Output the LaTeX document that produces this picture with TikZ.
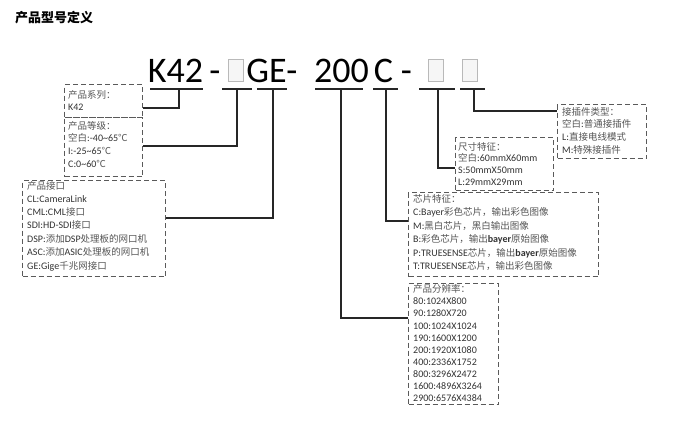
\documentclass[tikz,border=0pt]{standalone}
\usepackage{fontspec}
\setmainfont{Carlito}
\newfontfamily\cjk{Noto Sans CJK SC}
\definecolor{txtgray}{HTML}{333333}
\definecolor{zhgray}{HTML}{555555}
\definecolor{boxgray}{HTML}{5A5A5A}
\definecolor{linecol}{HTML}{262626}
\newcommand\zhtxt[1]{{\cjk\fontsize{9.5}{12}\selectfont\color{zhgray}#1}}
\tikzset{
  dbox/.style={draw=boxgray, dash pattern=on 5pt off 3pt, line width=1pt, inner sep=0pt},
  conn/.style={draw=linecol, line width=2pt},
  uline/.style={draw=linecol, line width=2.4pt},
  lbl/.style={anchor=west, inner sep=0pt, text height=7pt, text depth=2pt,
              font=\fontsize{10}{12}\selectfont, text=txtgray},
  hdr/.style={anchor=base, inner sep=0pt, font=\fontsize{36}{40}\selectfont, text=black},
  blank/.style={draw=gray!55, fill=gray!7, line width=0.8pt, inner sep=0pt,
                minimum width=15pt, minimum height=22pt, anchor=north west},
}
\begin{document}
\begin{tikzpicture}[x=1pt,y=-1pt]
\useasboundingbox[fill=white] (0,0) rectangle (680,421);

% title
\node[anchor=west, inner sep=0pt, font=\fontsize{13}{15}\selectfont\cjk\bfseries] (title) at (15,18) {产品型号定义};

% header
\node[hdr] (hK) at (175.5,82) {K42};
\node[hdr] (hd1) at (215,82) {-};
\node[blank] (hb0) at (228,59) {};
\node[hdr] (hGE) at (266.5,82) {GE};
\node[hdr] (hd2) at (292,82) {-};
\node[hdr] (h200) at (341.5,82) {200};
\node[hdr] (hC) at (383.5,82) {C};
\node[hdr] (hd3) at (406.5,82) {-};
\node[blank] (hb1) at (428,59) {};
\node[blank] (hb2) at (462,59) {};

% underlines
\draw[uline] (150,89) -- (203,89);
\draw[uline] (222,89) -- (252,89);
\draw[uline] (257,89) -- (287,89);
\draw[uline] (315,89) -- (363,89);
\draw[uline] (373,89) -- (398,89);
\draw[uline] (419,89) -- (455,89);
\draw[uline] (460,89) -- (485,89);

\coordinate (uK) at (179,89);
\coordinate (uB0) at (237,89);
\coordinate (uGE) at (273,89);
\coordinate (u200) at (341,89);
\coordinate (uC) at (386,89);
\coordinate (uB1) at (438,89);
\coordinate (uB2) at (474,89);

% boxes
\node[dbox, anchor=north west, minimum width=78pt, minimum height=33pt] (sys) at (64,84) {};
\node[dbox, anchor=north west, minimum width=78pt, minimum height=59pt] (grade) at (64,117) {};
\node[dbox, anchor=north west, minimum width=143pt, minimum height=96pt] (iface) at (22,180) {};
\node[dbox, anchor=north west, minimum width=98pt, minimum height=53pt] (size) at (455,137) {};
\node[dbox, anchor=north west, minimum width=89pt, minimum height=54pt] (plug) at (557,104) {};
\node[dbox, anchor=north west, minimum width=190pt, minimum height=84pt] (chip) at (408,192) {};
\node[dbox, anchor=north west, minimum width=90pt, minimum height=121pt] (res) at (408,283) {};

% connectors
\coordinate (ySys) at (0,108);
\coordinate (yGrade) at (0,146);
\coordinate (yIface) at (0,218);
\coordinate (yRes) at (0,318);
\coordinate (yChip) at (0,221);
\coordinate (ySize) at (0,168);
\coordinate (yPlug) at (0,111);
\draw[conn] (uK) |- (sys.east |- ySys);
\draw[conn] (uB0) |- (grade.east |- yGrade);
\draw[conn] (uGE) |- (iface.east |- yIface);
\draw[conn] (u200) |- (res.west |- yRes);
\draw[conn] (uC) |- (chip.west |- yChip);
\draw[conn] (uB1) |- (size.west |- ySize);
\draw[conn] (uB2) |- (plug.west |- yPlug);

% texts
\node[lbl] (s1) at (68,96) {\zhtxt{产品系列：}};
\node[lbl] (s2) at (68,108) {K42};

\node[lbl] (g1) at (68,126.5) {\zhtxt{产品等级：}};
\node[lbl] (g2) at (68,139) {\zhtxt{空白}:-40\textasciitilde 65\zhtxt{℃}};
\node[lbl] (g3) at (68,152) {I:-25\textasciitilde 65\zhtxt{℃}};
\node[lbl] (g4) at (68,165) {C:0\textasciitilde 60\zhtxt{℃}};

\node[lbl] (i1) at (27,186.5) {\zhtxt{产品接口}};
\node[lbl] (i2) at (27,199.5) {CL:CameraLink};
\node[lbl] (i3) at (27,212.5) {CML:CML\zhtxt{接口}};
\node[lbl] (i4) at (27,226) {SDI:HD-SDI\zhtxt{接口}};
\node[lbl] (i5) at (27,239.5) {DSP:\zhtxt{添加}DSP\zhtxt{处理板的网口机}};
\node[lbl] (i6) at (27,253) {ASC:\zhtxt{添加}ASIC\zhtxt{处理板的网口机}};
\node[lbl] (i7) at (27,266.5) {GE:Gige\zhtxt{千兆网接口}};

\node[lbl] (z1) at (458,147.5) {\zhtxt{尺寸特征：}};
\node[lbl] (z2) at (458,159) {\zhtxt{空白}:60mmX60mm};
\node[lbl] (z3) at (458,171) {S:50mmX50mm};
\node[lbl] (z4) at (458,183) {L:29mmX29mm};

\node[lbl] (p1) at (562,112.5) {\zhtxt{接插件类型：}};
\node[lbl] (p2) at (562,125) {\zhtxt{空白}:\zhtxt{普通接插件}};
\node[lbl] (p3) at (562,138) {L:\zhtxt{直接电线模式}};
\node[lbl] (p4) at (562,151) {M:\zhtxt{特殊接插件}};

\node[lbl] (c1) at (413,200) {\zhtxt{芯片特征：}};
\node[lbl] (c2) at (413,213) {C:Bayer\zhtxt{彩色芯片，输出彩色图像}};
\node[lbl] (c3) at (413,226.5) {M:\zhtxt{黑白芯片，黑白输出图像}};
\node[lbl] (c4) at (413,240) {B:\zhtxt{彩色芯片，输出}\textbf{bayer}\zhtxt{原始图像}};
\node[lbl] (c5) at (413,253.5) {P:TRUESENSE\zhtxt{芯片，输出}\textbf{bayer}\zhtxt{原始图像}};
\node[lbl] (c6) at (413,267) {T:TRUESENSE\zhtxt{芯片，输出彩色图像}};

\node[lbl] (r1) at (413,289.5) {\zhtxt{产品分辨率：}};
\node[lbl] (r2) at (413,301.5) {80:1024X800};
\node[lbl] (r3) at (413,314) {90:1280X720};
\node[lbl] (r4) at (413,326.5) {100:1024X1024};
\node[lbl] (r5) at (413,338.5) {190:1600X1200};
\node[lbl] (r6) at (413,350.5) {200:1920X1080};
\node[lbl] (r7) at (413,363) {400:2336X1752};
\node[lbl] (r8) at (413,375) {800:3296X2472};
\node[lbl] (r9) at (413,387) {1600:4896X3264};
\node[lbl] (r10) at (413,399) {2900:6576X4384};
\end{tikzpicture}
\end{document}
